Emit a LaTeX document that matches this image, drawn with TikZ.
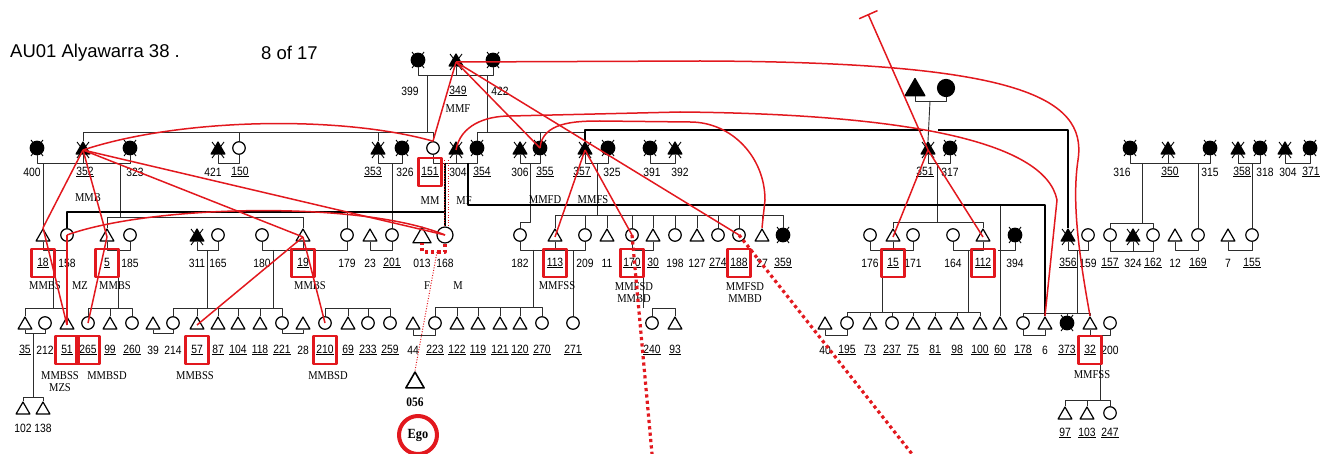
\documentclass[tikz,border=0pt]{standalone}
\usepackage{fontspec}
\setmainfont{Liberation Serif}
\newfontfamily\numfont[FakeStretch=0.86]{Liberation Sans}
\newfontfamily\relfont[FakeStretch=0.88]{Liberation Serif}
\newfontfamily\headfont{Liberation Sans}
\usetikzlibrary{arrows.meta,shapes.geometric}
\definecolor{kred}{RGB}{226,24,30}
\definecolor{kgray}{RGB}{45,45,45}

\begin{document}
\begin{tikzpicture}[x=1pt, y=-1pt, line join=round,
  m/.style={draw, fill=white, regular polygon, regular polygon sides=3, minimum size=16pt, inner sep=0pt, line width=1.2pt, yshift=-2pt},
  f/.style={draw, fill=white, circle, minimum size=12.5pt, inner sep=0pt, line width=1.2pt},
  bm/.style={m, minimum size=21pt, yshift=-0.6pt},
  bf/.style={f, minimum size=16pt},
  dm/.style={m, fill=black},
  df/.style={f, fill=black, minimum size=13.5pt},
  num/.style={font=\numfont\fontsize{12}{12}\selectfont, inner sep=0pt},
  rel/.style={font=\relfont\fontsize{12}{12}\selectfont, inner sep=0pt},
  bar/.style={draw=kgray, line width=0.9pt},
  link/.style={draw=black, line width=2pt},
  rl/.style={draw=kred, line width=1.5pt},
  rbox/.style={draw=kred, line width=2.8pt, minimum width=23pt, minimum height=28pt, inner sep=0pt},
  rdot/.style={draw=kred, line width=3.2pt, dash pattern=on 3.2pt off 3.2pt},
  rthin/.style={draw=kred, line width=1pt, dash pattern=on 1pt off 1.6pt}
]
\useasboundingbox (0,0) rectangle (1327,454);

% title
\node[font=\headfont\fontsize{18.5}{18.5}\selectfont, anchor=west, inner sep=0pt] (title) at (10,53) {AU01 Alyawarra 38 .};
\node[font=\headfont\fontsize{18.5}{18.5}\selectfont, anchor=west, inner sep=0pt] (page) at (261,53) {8 of 17};

% generation 0
\node[df] (p399) at (418,60) {};
\node[dm] (p349) at (456,60) {};
\node[df] (p422) at (493,60) {};
\node[num] (n399) at (410,91) {399};
\node[num] (n349) at (458,91) {\underline{349}};
\node[num] (n422) at (500,91) {422};
\node[rel] (rMMF) at (458,109) {MMF};
\node[m, fill=black, minimum size=23pt] (gf351) at (915,88) {};
\node[f, fill=black, minimum size=17pt] (gm351) at (946,88) {};

% generation 1
\foreach \x/\lx/\id/\t/\txt in {37/32/400/df/400, 83/85/352/dm/\underline{352}, 130/135/323/df/323, 218/213/421/dm/421, 239/240/150/f/\underline{150}, 378/373/353/dm/\underline{353}, 402/405/326/df/326, 433/430/151/f/\underline{151}, 456/458/304/dm/304, 477/482/354/df/\underline{354}, 520/520/306/dm/306, 540/545/355/df/\underline{355}, 585/582/357/dm/\underline{357}, 608/612/325/df/325, 650/652/391/df/391, 675/680/392/dm/392, 928/925/351/dm/\underline{351}, 950/950/317/df/317, 1130/1122/316/df/316, 1168/1170/350/dm/\underline{350}, 1210/1210/315/df/315, 1238/1242/358/dm/\underline{358}, 1260/1265/318/df/318, 1285/1288/304b/dm/304, 1310/1311/371/df/\underline{371}}{
  \node[\t] (p\id) at (\x,148) {};
  \node[num] (n\id) at (\lx,172) {\txt};
}

% generation 2
\foreach \x/\id/\t/\txt in {43/18/m/\underline{18}, 67/158/f/158, 107/5/m/\underline{5}, 130/185/f/185, 197/311/dm/311, 218/165/f/165, 262/180/f/180, 303/19/m/\underline{19}, 347/179/f/179, 370/23/m/23, 392/201/f/\underline{201}, 422/013/bm/013, 445/168/bf/168, 520/182/f/182, 555/113/m/\underline{113}, 585/209/f/209, 607/11/m/11, 632/170/f/\underline{170}, 653/30/m/\underline{30}, 675/198/f/198, 697/127/m/127, 718/274/f/\underline{274}, 739/188/f/\underline{188}, 762/27/m/27, 783/359/df/\underline{359}, 870/176/f/176, 893/15/m/\underline{15}, 913/171/f/171, 953/164/f/164, 983/112/m/\underline{112}, 1015/394/df/394, 1068/356/dm/\underline{356}, 1088/159/f/159, 1110/157/f/\underline{157}, 1133/324/dm/324, 1153/162/f/\underline{162}, 1175/12/m/12, 1198/169/f/\underline{169}, 1228/7/m/7, 1252/155/f/\underline{155}}{
  \node[\t] (p\id) at (\x,235) {};
  \node[num] (n\id) at (\x,263) {\txt};
}

% generation 3
\foreach \x/\id/\t/\txt in {25/35/m/\underline{35}, 45/212/f/212, 67/51/m/\underline{51}, 88/265/f/\underline{265}, 110/99/m/\underline{99}, 132/260/f/\underline{260}, 153/39/m/39, 173/214/f/214, 197/57/m/\underline{57}, 218/87/m/\underline{87}, 238/104/m/\underline{104}, 260/118/m/\underline{118}, 282/221/f/\underline{221}, 303/28/m/28, 325/210/f/\underline{210}, 348/69/m/\underline{69}, 368/233/f/\underline{233}, 390/259/f/\underline{259}, 413/44/m/44, 435/223/f/\underline{223}, 457/122/m/\underline{122}, 478/119/m/\underline{119}, 500/121/m/\underline{121}, 520/120/m/\underline{120}, 542/270/f/\underline{270}, 573/271/f/\underline{271}, 652/240/f/\underline{240}, 675/93/m/\underline{93}, 825/40/m/40, 847/195/f/\underline{195}, 870/73/m/\underline{73}, 892/237/f/\underline{237}, 913/75/m/\underline{75}, 935/81/m/\underline{81}, 957/98/m/\underline{98}, 980/100/m/\underline{100}, 1000/60/m/\underline{60}, 1023/178/f/\underline{178}, 1045/6/m/6, 1067/373/df/\underline{373}, 1090/32/m/\underline{32}, 1110/200/f/200}{
  \node[\t] (p\id) at (\x,323) {};
  \node[num] (n\id) at (\x,350) {\txt};
}

% generation 4
\foreach \x/\y/\id/\t/\txt in {23/408/102/m/102, 43/408/138/m/138, 1065/413/97/m/\underline{97}, 1087/413/103/m/\underline{103}, 1110/413/247/f/\underline{247}}{
  \node[\t] (p\id) at (\x,\y) {};
  \node[num] (n\id) at (\x,\y+20) {\txt};
}
\node[bm, line width=1.6pt] (p056) at (415,380) {};
\node[rel, font=\relfont\fontsize{13}{13}\selectfont\bfseries] (n056) at (415,402) {056};

% deceased marks
\foreach \d in {p399,p349,p422,p400,p352,p323,p421,p353,p326,p304,p354,p306,p355,p357,p325,p391,p392,p351,p317,p316,p350,p315,p358,p318,p304b,p371,p311,p359,p394,p356,p324,p373}
  \draw[line width=0.9pt] (\d.center) ++(-6,-8) -- ++(12,16) ++(0,-16) -- ++(-12,16);

% marriages
\foreach \a/\b/\y in {p399/p422/75, gf351/gm351/101, p400/p323/163, p421/p150/163, p353/p326/163, p151/p354/163, p306/p355/163, p357/p325/163, p391/p392/163, p351/p317/163, p316/p315/163, p358/p318/163, p304b/p371/163, p18/p158/250, p5/p185/250, p311/p165/250, p180/p179/250, p23/p201/250, p182/p209/250, p170/p30/250, p176/p171/250, p164/p112/250, p356/p159/250, p157/p162/251, p12/p169/250, p7/p155/250, p35/p212/333, p39/p214/333, p221/p28/333, p44/p223/335, p40/p195/335, p178/p6/335, p32/p200/335}
  \draw[bar] (\a.south) |- (\b.south |- 0,\y) -- (\b.south);
\foreach \a/\y in {p349/75, p352/163, p304/163, p350/163, p19/250, p113/250, p15/250, p324/251}
  \draw[bar] (\a.south) -- (\a.south |- 0,\y);

% sibling bars
\draw[bar] (p352.north) |- (p151.north |- 0,132) -- (p151.north);
\draw[bar] (p354.north) |- (p357.north |- 0,132) -- (p357.north);
\draw[bar] (p5.north) |- (p19.north |- 0,217) -- (p19.north);
\draw[bar] (p182.north) |- (530,222) -- (530,163);
\draw[bar] (p113.north) |- (p359.north |- 0,215) -- (p359.north);
\draw[bar] (p15.north) |- (p112.north |- 0,222) -- (p112.north);
\draw[bar] (p157.north) |- (p162.north |- 0,223) -- (p162.north);
\draw[bar] (p35.north) |- (p51.north |- 0,308) -- (p51.north);
\draw[bar] (p265.north) |- (p260.north |- 0,308) -- (p260.north);
\draw[bar] (p214.north) |- (p221.north |- 0,308) -- (p221.north);
\draw[bar] (p210.north) |- (p259.north |- 0,308) -- (p259.north);
\draw[bar] (p223.north) |- (p270.north |- 0,307) -- (p270.north);
\draw[bar] (p240.north) |- (p93.north |- 0,308) -- (p93.north);
\draw[bar] (p195.north) |- (p100.north |- 0,312) -- (p100.north);
\draw[bar] (p178.north) |- (p32.north |- 0,313) -- (p32.north);
\draw[bar] (p102.north) |- (p138.north |- 0,397) -- (p138.north);
\draw[bar] (p97.north) |- (p247.north |- 0,400) -- (p247.north);
\foreach \a/\y in {p150/132, p353/132, p355/132, p18/163, p201/163, p179/212, p169/163, p155/163, p209/215, p11/215, p170/215, p30/215, p198/215, p127/215, p274/215, p188/215, p27/215, p99/308, p57/308, p87/308, p104/308, p118/308, p69/308, p233/308, p122/307, p119/307, p121/307, p120/307, p271/250, p73/312, p237/312, p75/312, p81/312, p98/312, p373/313, p60/205, p103/400}
  \draw[bar] (\a.north) -- (\a.north |- 0,\y);

% descent lines
\foreach \x/\ya/\yb in {427/75/132, 487/75/132, 120/163/217, 597/163/215, 937/163/222, 1142/163/223, 53/250/308, 118/250/308, 207/250/308, 273/250/308, 533/250/307, 643/250/308, 882/250/312, 968/250/312, 1077/250/313, 33/333/397, 1100/335/400}
  \draw[bar] (\x,\ya) -- (\x,\yb);
\draw[bar] (930,101) -- (p351.north);
\draw[bar] (p394.south) |- (998,250);

% thick links
\draw[link] (p357.north) |- (923,130);
\draw[link] (938,130) -| (p356.north);
\draw[link] (p158.north) |- (p168.north |- 0,212) -- (p168.north);
\draw[link] (445,163) -- (445,212);
\draw[link] (468,163) |- (p6.north |- 0,205) -- (p6.north);

% relation labels
\node[rel] (rMMB) at (88,198) {MMB};
\node[rel] (rMM) at (430,201) {MM};
\node[rel] (rMF) at (464,201) {MF};
\node[rel] (rMMFD) at (545,200) {MMFD};
\node[rel] (rMMFS) at (593,200) {MMFS};
\node[rel] (r18) at (45,286) {MMBS};
\node[rel] (r158) at (80,286) {MZ};
\node[rel] (r5) at (115,286) {MMBS};
\node[rel] (r19) at (310,286) {MMBS};
\node[rel] (r013) at (427,286) {F};
\node[rel] (r168) at (458,286) {M};
\node[rel] (r113) at (557,286) {MMFSS};
\node[rel, align=center] (r170) at (634,293) {MMFSD\\MMBD};
\node[rel, align=center] (r188) at (745,293) {MMFSD\\MMBD};
\node[rel, align=center] (r51) at (60,382) {MMBSS\\MZS};
\node[rel] (r265) at (107,376) {MMBSD};
\node[rel] (r57) at (195,376) {MMBSS};
\node[rel] (r210) at (328,376) {MMBSD};
\node[rel] (r32) at (1092,375) {MMFSS};

% red marks
\foreach \b in {151,18,5,19,113,170,188,15,112,51,265,57,210,32}
  \node[rbox] (b\b) at (n\b) {};
\coordinate (tee) at (868,14);
\coordinate (d170) at (652,454);
\coordinate (d188) at (912,454);
\draw[rl] (p349.center) -- (p151.north);
\draw[rl] (p349.center) -- (p355.center);
\draw[rl] (p349.center) -- (p188.center);
\draw[rl] (p349.center) -- (700,61) .. controls (1010,62) and (1088,95) .. (1078,160) .. controls (1072,200) and (1078,250) .. (p32.north);
\draw[rl] (p304.center) to[out=80,in=180] (510,116) -- (680,112) .. controls (900,114) and (1045,140) .. (1057,200) -- (p6.north);
\draw[rl] (p355.center) to[out=85,in=180] (600,121) -- (690,122) to[out=0,in=90] (765,200) -- (p27.north);
\draw[rl] (p357.center) -- (p113.center);
\draw[rl] (p357.center) -- (p170.center);
\draw[rl] (p352.center) .. controls (180,118) and (340,115) .. (p151.north);
\draw[rl] (p352.center) -- (p18.north);
\draw[rl] (p352.center) -- (p5.center);
\draw[rl] (p352.center) -- (p19.center);
\draw[rl] (p352.center) -- (p168.center);
\draw[rl] (p158.center) .. controls (150,205) and (360,200) .. (p168.center);
\draw[rl] (p18.north) -- (p51.center);
\draw[rl] (p158.center) -- (p51.center);
\draw[rl] (p5.center) -- (p265.center);
\draw[rl] (p19.center) -- (p57.center);
\draw[rl] (p19.center) -- (p210.center);
\draw[rl] (p351.center) -- (p15.center);
\draw[rl] (p351.center) -- (p112.center);
\draw[rl, {Bar[width=20pt]}-] (tee) -- (p351.center);
\draw[rdot] (p170.center) -- (d170);
\draw[rdot] (p188.center) -- (d188);
\draw[rthin] (444,160) -- (444,226);
\draw[rthin] (448,160) -- (448,226);
\draw[rdot] (p168.south) |- (p013.south |- 0,252) -- (p013.south);
\draw[rthin] (437,252) -- (p056.north);
\node[circle, draw=kred, line width=4pt, minimum size=38pt, inner sep=0pt, font=\relfont\fontsize{14}{14}\selectfont\bfseries] (ego) at (418,435) {Ego};
\end{tikzpicture}
\end{document}
